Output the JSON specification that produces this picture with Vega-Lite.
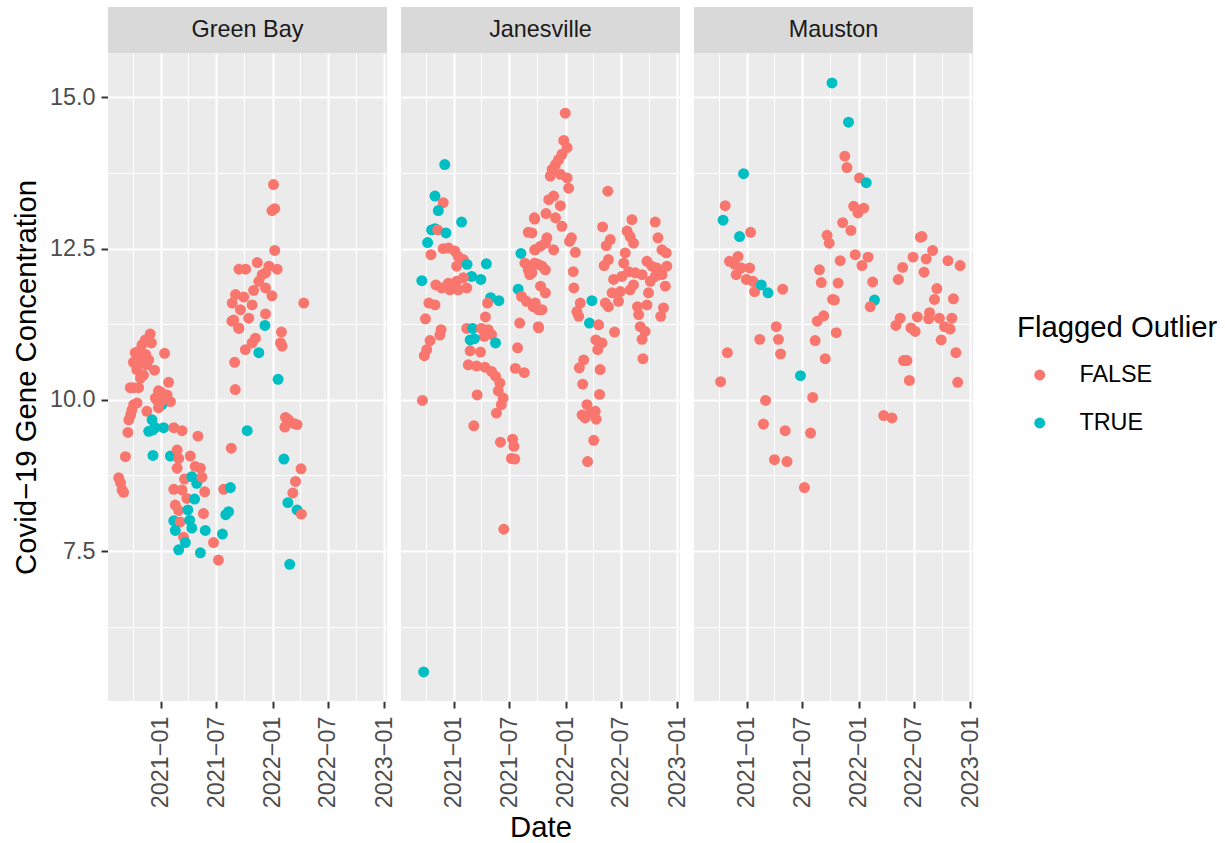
{
"$schema": "https://vega.github.io/schema/vega-lite/v6.json",
"padding": {"left": 12, "top": 7, "right": 0, "bottom": 0},
"spacing": 0,
"config": {"font": "Liberation Sans", "view": {"stroke": null}},
"datasets": {
"sites": [{"site": "Green Bay"}, {"site": "Janesville"}, {"site": "Mauston"}],
"obs": [
{"site":"Green Bay","date":"2020-08-16","value":8.71,"outlier":"FALSE"},
{"site":"Green Bay","date":"2020-08-22","value":8.63,"outlier":"FALSE"},
{"site":"Green Bay","date":"2020-09-01","value":8.47,"outlier":"FALSE"},
{"site":"Green Bay","date":"2020-08-27","value":8.51,"outlier":"FALSE"},
{"site":"Green Bay","date":"2020-09-07","value":9.06,"outlier":"FALSE"},
{"site":"Green Bay","date":"2020-09-15","value":9.46,"outlier":"FALSE"},
{"site":"Green Bay","date":"2020-09-18","value":9.67,"outlier":"FALSE"},
{"site":"Green Bay","date":"2020-09-28","value":9.83,"outlier":"FALSE"},
{"site":"Green Bay","date":"2020-09-24","value":9.75,"outlier":"FALSE"},
{"site":"Green Bay","date":"2020-10-04","value":9.92,"outlier":"FALSE"},
{"site":"Green Bay","date":"2020-10-15","value":9.95,"outlier":"FALSE"},
{"site":"Green Bay","date":"2020-09-23","value":10.20,"outlier":"FALSE"},
{"site":"Green Bay","date":"2020-10-03","value":10.20,"outlier":"FALSE"},
{"site":"Green Bay","date":"2020-10-20","value":10.20,"outlier":"FALSE"},
{"site":"Green Bay","date":"2020-10-03","value":10.62,"outlier":"FALSE"},
{"site":"Green Bay","date":"2020-10-09","value":10.78,"outlier":"FALSE"},
{"site":"Green Bay","date":"2020-10-20","value":10.80,"outlier":"FALSE"},
{"site":"Green Bay","date":"2020-10-31","value":10.91,"outlier":"FALSE"},
{"site":"Green Bay","date":"2020-11-11","value":10.99,"outlier":"FALSE"},
{"site":"Green Bay","date":"2020-11-27","value":11.09,"outlier":"FALSE"},
{"site":"Green Bay","date":"2020-10-31","value":10.61,"outlier":"FALSE"},
{"site":"Green Bay","date":"2020-10-26","value":10.36,"outlier":"FALSE"},
{"site":"Green Bay","date":"2020-10-14","value":10.50,"outlier":"FALSE"},
{"site":"Green Bay","date":"2020-10-27","value":10.70,"outlier":"FALSE"},
{"site":"Green Bay","date":"2020-11-12","value":10.75,"outlier":"FALSE"},
{"site":"Green Bay","date":"2020-11-15","value":10.58,"outlier":"FALSE"},
{"site":"Green Bay","date":"2020-12-11","value":10.49,"outlier":"FALSE"},
{"site":"Green Bay","date":"2021-01-13","value":10.77,"outlier":"FALSE"},
{"site":"Green Bay","date":"2021-01-26","value":10.29,"outlier":"FALSE"},
{"site":"Green Bay","date":"2020-12-24","value":10.15,"outlier":"FALSE"},
{"site":"Green Bay","date":"2020-12-14","value":10.03,"outlier":"FALSE"},
{"site":"Green Bay","date":"2021-01-21","value":10.08,"outlier":"FALSE"},
{"site":"Green Bay","date":"2021-02-01","value":9.97,"outlier":"FALSE"},
{"site":"Green Bay","date":"2021-01-04","value":9.92,"outlier":"TRUE"},
{"site":"Green Bay","date":"2020-12-24","value":9.87,"outlier":"FALSE"},
{"site":"Green Bay","date":"2020-11-16","value":9.81,"outlier":"FALSE"},
{"site":"Green Bay","date":"2020-12-03","value":9.67,"outlier":"TRUE"},
{"site":"Green Bay","date":"2020-11-22","value":9.48,"outlier":"TRUE"},
{"site":"Green Bay","date":"2020-12-14","value":9.54,"outlier":"TRUE"},
{"site":"Green Bay","date":"2021-01-10","value":9.54,"outlier":"TRUE"},
{"site":"Green Bay","date":"2020-12-05","value":9.50,"outlier":"TRUE"},
{"site":"Green Bay","date":"2021-02-12","value":9.54,"outlier":"FALSE"},
{"site":"Green Bay","date":"2021-03-11","value":9.49,"outlier":"FALSE"},
{"site":"Green Bay","date":"2021-05-02","value":9.40,"outlier":"FALSE"},
{"site":"Green Bay","date":"2020-12-06","value":9.08,"outlier":"TRUE"},
{"site":"Green Bay","date":"2021-02-01","value":9.07,"outlier":"TRUE"},
{"site":"Green Bay","date":"2021-02-23","value":9.17,"outlier":"FALSE"},
{"site":"Green Bay","date":"2021-02-28","value":9.03,"outlier":"FALSE"},
{"site":"Green Bay","date":"2021-04-07","value":9.07,"outlier":"FALSE"},
{"site":"Green Bay","date":"2021-02-23","value":8.87,"outlier":"FALSE"},
{"site":"Green Bay","date":"2021-04-23","value":8.90,"outlier":"FALSE"},
{"site":"Green Bay","date":"2021-05-10","value":8.87,"outlier":"FALSE"},
{"site":"Green Bay","date":"2021-03-19","value":8.69,"outlier":"FALSE"},
{"site":"Green Bay","date":"2021-04-12","value":8.73,"outlier":"TRUE"},
{"site":"Green Bay","date":"2021-04-28","value":8.62,"outlier":"TRUE"},
{"site":"Green Bay","date":"2021-05-15","value":8.72,"outlier":"FALSE"},
{"site":"Green Bay","date":"2021-02-12","value":8.52,"outlier":"FALSE"},
{"site":"Green Bay","date":"2021-03-11","value":8.51,"outlier":"FALSE"},
{"site":"Green Bay","date":"2021-03-27","value":8.37,"outlier":"FALSE"},
{"site":"Green Bay","date":"2021-04-21","value":8.36,"outlier":"TRUE"},
{"site":"Green Bay","date":"2021-05-24","value":8.48,"outlier":"FALSE"},
{"site":"Green Bay","date":"2021-07-25","value":8.52,"outlier":"FALSE"},
{"site":"Green Bay","date":"2021-08-16","value":8.55,"outlier":"TRUE"},
{"site":"Green Bay","date":"2021-02-17","value":8.26,"outlier":"FALSE"},
{"site":"Green Bay","date":"2021-02-28","value":8.17,"outlier":"FALSE"},
{"site":"Green Bay","date":"2021-03-30","value":8.18,"outlier":"TRUE"},
{"site":"Green Bay","date":"2021-05-20","value":8.12,"outlier":"FALSE"},
{"site":"Green Bay","date":"2021-02-12","value":8.00,"outlier":"TRUE"},
{"site":"Green Bay","date":"2021-03-05","value":7.98,"outlier":"FALSE"},
{"site":"Green Bay","date":"2021-04-05","value":8.01,"outlier":"TRUE"},
{"site":"Green Bay","date":"2021-04-12","value":7.88,"outlier":"TRUE"},
{"site":"Green Bay","date":"2021-02-17","value":7.84,"outlier":"TRUE"},
{"site":"Green Bay","date":"2021-03-16","value":7.73,"outlier":"FALSE"},
{"site":"Green Bay","date":"2021-05-26","value":7.84,"outlier":"TRUE"},
{"site":"Green Bay","date":"2021-08-01","value":8.10,"outlier":"TRUE"},
{"site":"Green Bay","date":"2021-08-10","value":8.15,"outlier":"TRUE"},
{"site":"Green Bay","date":"2021-07-21","value":7.78,"outlier":"TRUE"},
{"site":"Green Bay","date":"2021-06-22","value":7.64,"outlier":"FALSE"},
{"site":"Green Bay","date":"2021-03-22","value":7.64,"outlier":"TRUE"},
{"site":"Green Bay","date":"2021-02-28","value":7.52,"outlier":"TRUE"},
{"site":"Green Bay","date":"2021-05-10","value":7.47,"outlier":"TRUE"},
{"site":"Green Bay","date":"2021-07-08","value":7.35,"outlier":"FALSE"},
{"site":"Green Bay","date":"2021-08-21","value":11.30,"outlier":"FALSE"},
{"site":"Green Bay","date":"2021-09-12","value":11.19,"outlier":"FALSE"},
{"site":"Green Bay","date":"2021-10-04","value":10.83,"outlier":"FALSE"},
{"site":"Green Bay","date":"2021-09-01","value":10.17,"outlier":"FALSE"},
{"site":"Green Bay","date":"2021-08-19","value":9.20,"outlier":"FALSE"},
{"site":"Green Bay","date":"2022-01-04","value":13.56,"outlier":"FALSE"},
{"site":"Green Bay","date":"2022-01-08","value":13.16,"outlier":"FALSE"},
{"site":"Green Bay","date":"2021-12-30","value":13.13,"outlier":"FALSE"},
{"site":"Green Bay","date":"2022-01-08","value":12.47,"outlier":"FALSE"},
{"site":"Green Bay","date":"2021-11-12","value":12.27,"outlier":"FALSE"},
{"site":"Green Bay","date":"2021-09-13","value":12.16,"outlier":"FALSE"},
{"site":"Green Bay","date":"2021-10-05","value":12.16,"outlier":"FALSE"},
{"site":"Green Bay","date":"2021-12-20","value":12.21,"outlier":"FALSE"},
{"site":"Green Bay","date":"2022-01-16","value":12.16,"outlier":"FALSE"},
{"site":"Green Bay","date":"2021-11-28","value":12.07,"outlier":"FALSE"},
{"site":"Green Bay","date":"2021-12-09","value":12.10,"outlier":"FALSE"},
{"site":"Green Bay","date":"2021-11-17","value":11.96,"outlier":"FALSE"},
{"site":"Green Bay","date":"2021-10-31","value":11.81,"outlier":"FALSE"},
{"site":"Green Bay","date":"2021-12-09","value":11.85,"outlier":"FALSE"},
{"site":"Green Bay","date":"2021-12-30","value":11.72,"outlier":"FALSE"},
{"site":"Green Bay","date":"2022-04-13","value":11.60,"outlier":"FALSE"},
{"site":"Green Bay","date":"2021-09-02","value":11.74,"outlier":"FALSE"},
{"site":"Green Bay","date":"2021-09-29","value":11.70,"outlier":"FALSE"},
{"site":"Green Bay","date":"2021-08-22","value":11.60,"outlier":"FALSE"},
{"site":"Green Bay","date":"2021-10-26","value":11.57,"outlier":"FALSE"},
{"site":"Green Bay","date":"2021-09-18","value":11.49,"outlier":"FALSE"},
{"site":"Green Bay","date":"2021-12-09","value":11.42,"outlier":"FALSE"},
{"site":"Green Bay","date":"2021-08-27","value":11.32,"outlier":"FALSE"},
{"site":"Green Bay","date":"2021-10-15","value":11.35,"outlier":"FALSE"},
{"site":"Green Bay","date":"2021-09-13","value":11.18,"outlier":"FALSE"},
{"site":"Green Bay","date":"2021-12-07","value":11.23,"outlier":"TRUE"},
{"site":"Green Bay","date":"2022-01-30","value":11.12,"outlier":"FALSE"},
{"site":"Green Bay","date":"2021-11-06","value":11.02,"outlier":"FALSE"},
{"site":"Green Bay","date":"2021-10-26","value":10.94,"outlier":"FALSE"},
{"site":"Green Bay","date":"2022-01-27","value":10.94,"outlier":"FALSE"},
{"site":"Green Bay","date":"2022-02-01","value":10.89,"outlier":"FALSE"},
{"site":"Green Bay","date":"2021-11-17","value":10.78,"outlier":"TRUE"},
{"site":"Green Bay","date":"2021-08-30","value":10.62,"outlier":"FALSE"},
{"site":"Green Bay","date":"2022-01-19","value":10.34,"outlier":"TRUE"},
{"site":"Green Bay","date":"2022-02-12","value":9.71,"outlier":"FALSE"},
{"site":"Green Bay","date":"2022-03-11","value":9.61,"outlier":"FALSE"},
{"site":"Green Bay","date":"2022-02-10","value":9.55,"outlier":"FALSE"},
{"site":"Green Bay","date":"2022-03-22","value":9.59,"outlier":"FALSE"},
{"site":"Green Bay","date":"2022-02-22","value":9.67,"outlier":"FALSE"},
{"site":"Green Bay","date":"2021-10-10","value":9.49,"outlier":"TRUE"},
{"site":"Green Bay","date":"2022-02-07","value":9.02,"outlier":"TRUE"},
{"site":"Green Bay","date":"2022-04-04","value":8.86,"outlier":"FALSE"},
{"site":"Green Bay","date":"2022-03-17","value":8.65,"outlier":"FALSE"},
{"site":"Green Bay","date":"2022-03-08","value":8.46,"outlier":"FALSE"},
{"site":"Green Bay","date":"2022-02-20","value":8.30,"outlier":"TRUE"},
{"site":"Green Bay","date":"2022-03-22","value":8.18,"outlier":"TRUE"},
{"site":"Green Bay","date":"2022-04-05","value":8.11,"outlier":"FALSE"},
{"site":"Green Bay","date":"2022-02-26","value":7.28,"outlier":"TRUE"},
{"site":"Green Bay","date":"2020-12-01","value":10.94,"outlier":"FALSE"},
{"site":"Green Bay","date":"2020-11-22","value":10.66,"outlier":"FALSE"},
{"site":"Green Bay","date":"2020-11-05","value":10.41,"outlier":"FALSE"},
{"site":"Green Bay","date":"2020-12-31","value":10.13,"outlier":"FALSE"},
{"site":"Green Bay","date":"2021-01-10","value":10.00,"outlier":"FALSE"},
{"site":"Green Bay","date":"2020-12-18","value":10.00,"outlier":"FALSE"},
{"site":"Janesville","date":"2020-12-02","value":13.89,"outlier":"TRUE"},
{"site":"Janesville","date":"2020-10-31","value":13.37,"outlier":"TRUE"},
{"site":"Janesville","date":"2020-11-27","value":13.26,"outlier":"FALSE"},
{"site":"Janesville","date":"2020-11-11","value":13.13,"outlier":"TRUE"},
{"site":"Janesville","date":"2021-01-26","value":12.94,"outlier":"TRUE"},
{"site":"Janesville","date":"2020-10-20","value":12.81,"outlier":"TRUE"},
{"site":"Janesville","date":"2020-10-31","value":12.83,"outlier":"TRUE"},
{"site":"Janesville","date":"2020-11-09","value":12.81,"outlier":"FALSE"},
{"site":"Janesville","date":"2020-12-06","value":12.76,"outlier":"TRUE"},
{"site":"Janesville","date":"2020-10-07","value":12.60,"outlier":"TRUE"},
{"site":"Janesville","date":"2020-10-18","value":12.40,"outlier":"FALSE"},
{"site":"Janesville","date":"2020-11-27","value":12.50,"outlier":"FALSE"},
{"site":"Janesville","date":"2020-12-14","value":12.51,"outlier":"FALSE"},
{"site":"Janesville","date":"2021-01-04","value":12.46,"outlier":"FALSE"},
{"site":"Janesville","date":"2021-01-15","value":12.37,"outlier":"FALSE"},
{"site":"Janesville","date":"2021-02-01","value":12.32,"outlier":"FALSE"},
{"site":"Janesville","date":"2021-01-10","value":12.21,"outlier":"FALSE"},
{"site":"Janesville","date":"2021-02-13","value":12.24,"outlier":"TRUE"},
{"site":"Janesville","date":"2021-04-17","value":12.25,"outlier":"TRUE"},
{"site":"Janesville","date":"2021-02-28","value":12.04,"outlier":"TRUE"},
{"site":"Janesville","date":"2021-03-30","value":11.99,"outlier":"TRUE"},
{"site":"Janesville","date":"2020-09-18","value":11.97,"outlier":"TRUE"},
{"site":"Janesville","date":"2020-11-03","value":11.90,"outlier":"FALSE"},
{"site":"Janesville","date":"2020-12-14","value":11.93,"outlier":"FALSE"},
{"site":"Janesville","date":"2021-01-10","value":11.96,"outlier":"FALSE"},
{"site":"Janesville","date":"2021-02-01","value":12.02,"outlier":"FALSE"},
{"site":"Janesville","date":"2020-12-19","value":11.82,"outlier":"FALSE"},
{"site":"Janesville","date":"2021-01-15","value":11.82,"outlier":"FALSE"},
{"site":"Janesville","date":"2021-02-12","value":11.85,"outlier":"FALSE"},
{"site":"Janesville","date":"2020-11-22","value":11.85,"outlier":"FALSE"},
{"site":"Janesville","date":"2021-05-01","value":11.69,"outlier":"TRUE"},
{"site":"Janesville","date":"2021-05-28","value":11.64,"outlier":"TRUE"},
{"site":"Janesville","date":"2021-04-21","value":11.60,"outlier":"FALSE"},
{"site":"Janesville","date":"2020-10-11","value":11.60,"outlier":"FALSE"},
{"site":"Janesville","date":"2020-10-31","value":11.57,"outlier":"FALSE"},
{"site":"Janesville","date":"2020-09-30","value":11.34,"outlier":"FALSE"},
{"site":"Janesville","date":"2021-04-14","value":11.37,"outlier":"FALSE"},
{"site":"Janesville","date":"2020-11-20","value":11.16,"outlier":"FALSE"},
{"site":"Janesville","date":"2020-11-16","value":11.07,"outlier":"FALSE"},
{"site":"Janesville","date":"2021-02-12","value":11.18,"outlier":"FALSE"},
{"site":"Janesville","date":"2021-03-03","value":11.18,"outlier":"TRUE"},
{"site":"Janesville","date":"2021-04-01","value":11.18,"outlier":"FALSE"},
{"site":"Janesville","date":"2021-04-23","value":11.16,"outlier":"FALSE"},
{"site":"Janesville","date":"2021-04-10","value":11.05,"outlier":"FALSE"},
{"site":"Janesville","date":"2021-05-04","value":11.08,"outlier":"FALSE"},
{"site":"Janesville","date":"2021-02-23","value":10.99,"outlier":"TRUE"},
{"site":"Janesville","date":"2021-03-09","value":11.01,"outlier":"TRUE"},
{"site":"Janesville","date":"2021-05-17","value":10.94,"outlier":"TRUE"},
{"site":"Janesville","date":"2020-10-15","value":10.98,"outlier":"FALSE"},
{"site":"Janesville","date":"2020-10-04","value":10.83,"outlier":"FALSE"},
{"site":"Janesville","date":"2020-09-26","value":10.73,"outlier":"FALSE"},
{"site":"Janesville","date":"2021-02-23","value":10.81,"outlier":"FALSE"},
{"site":"Janesville","date":"2021-03-29","value":10.79,"outlier":"FALSE"},
{"site":"Janesville","date":"2021-02-17","value":10.58,"outlier":"FALSE"},
{"site":"Janesville","date":"2021-03-16","value":10.56,"outlier":"FALSE"},
{"site":"Janesville","date":"2021-04-12","value":10.54,"outlier":"FALSE"},
{"site":"Janesville","date":"2021-05-04","value":10.47,"outlier":"FALSE"},
{"site":"Janesville","date":"2021-05-17","value":10.39,"outlier":"FALSE"},
{"site":"Janesville","date":"2021-05-31","value":10.28,"outlier":"FALSE"},
{"site":"Janesville","date":"2021-05-26","value":10.15,"outlier":"FALSE"},
{"site":"Janesville","date":"2021-06-11","value":10.03,"outlier":"FALSE"},
{"site":"Janesville","date":"2021-06-05","value":9.92,"outlier":"FALSE"},
{"site":"Janesville","date":"2021-05-20","value":9.78,"outlier":"FALSE"},
{"site":"Janesville","date":"2020-09-20","value":9.99,"outlier":"FALSE"},
{"site":"Janesville","date":"2021-03-18","value":10.08,"outlier":"FALSE"},
{"site":"Janesville","date":"2021-03-07","value":9.57,"outlier":"FALSE"},
{"site":"Janesville","date":"2021-06-02","value":9.30,"outlier":"FALSE"},
{"site":"Janesville","date":"2021-07-12","value":9.35,"outlier":"FALSE"},
{"site":"Janesville","date":"2021-07-16","value":9.23,"outlier":"FALSE"},
{"site":"Janesville","date":"2021-07-08","value":9.03,"outlier":"FALSE"},
{"site":"Janesville","date":"2021-07-19","value":9.02,"outlier":"FALSE"},
{"site":"Janesville","date":"2021-06-13","value":7.86,"outlier":"FALSE"},
{"site":"Janesville","date":"2020-09-24","value":5.50,"outlier":"TRUE"},
{"site":"Janesville","date":"2021-08-04","value":11.27,"outlier":"FALSE"},
{"site":"Janesville","date":"2021-07-28","value":10.86,"outlier":"FALSE"},
{"site":"Janesville","date":"2021-07-21","value":10.52,"outlier":"FALSE"},
{"site":"Janesville","date":"2021-08-19","value":10.45,"outlier":"FALSE"},
{"site":"Janesville","date":"2021-08-08","value":12.42,"outlier":"TRUE"},
{"site":"Janesville","date":"2021-07-30","value":11.83,"outlier":"TRUE"},
{"site":"Janesville","date":"2021-09-22","value":12.99,"outlier":"FALSE"},
{"site":"Janesville","date":"2021-09-01","value":12.77,"outlier":"FALSE"},
{"site":"Janesville","date":"2021-08-21","value":12.26,"outlier":"FALSE"},
{"site":"Janesville","date":"2021-09-01","value":12.15,"outlier":"FALSE"},
{"site":"Janesville","date":"2021-09-06","value":12.07,"outlier":"FALSE"},
{"site":"Janesville","date":"2021-09-22","value":12.26,"outlier":"FALSE"},
{"site":"Janesville","date":"2021-10-04","value":12.24,"outlier":"FALSE"},
{"site":"Janesville","date":"2021-09-22","value":12.48,"outlier":"FALSE"},
{"site":"Janesville","date":"2021-08-10","value":11.71,"outlier":"FALSE"},
{"site":"Janesville","date":"2021-08-26","value":11.63,"outlier":"FALSE"},
{"site":"Janesville","date":"2021-09-17","value":11.54,"outlier":"FALSE"},
{"site":"Janesville","date":"2021-10-04","value":11.49,"outlier":"FALSE"},
{"site":"Janesville","date":"2021-10-04","value":11.21,"outlier":"FALSE"},
{"site":"Janesville","date":"2021-12-31","value":14.74,"outlier":"FALSE"},
{"site":"Janesville","date":"2021-12-26","value":14.29,"outlier":"FALSE"},
{"site":"Janesville","date":"2022-01-06","value":14.17,"outlier":"FALSE"},
{"site":"Janesville","date":"2021-12-20","value":14.06,"outlier":"FALSE"},
{"site":"Janesville","date":"2021-12-09","value":13.97,"outlier":"FALSE"},
{"site":"Janesville","date":"2021-11-29","value":13.89,"outlier":"FALSE"},
{"site":"Janesville","date":"2021-11-18","value":13.81,"outlier":"FALSE"},
{"site":"Janesville","date":"2021-11-12","value":13.70,"outlier":"FALSE"},
{"site":"Janesville","date":"2021-12-15","value":13.73,"outlier":"FALSE"},
{"site":"Janesville","date":"2022-01-06","value":13.67,"outlier":"FALSE"},
{"site":"Janesville","date":"2022-01-11","value":13.50,"outlier":"FALSE"},
{"site":"Janesville","date":"2022-05-19","value":13.45,"outlier":"FALSE"},
{"site":"Janesville","date":"2021-11-07","value":13.31,"outlier":"FALSE"},
{"site":"Janesville","date":"2021-11-23","value":13.37,"outlier":"FALSE"},
{"site":"Janesville","date":"2021-12-15","value":13.21,"outlier":"FALSE"},
{"site":"Janesville","date":"2021-10-29","value":13.08,"outlier":"FALSE"},
{"site":"Janesville","date":"2021-11-29","value":13.01,"outlier":"FALSE"},
{"site":"Janesville","date":"2021-12-20","value":12.87,"outlier":"FALSE"},
{"site":"Janesville","date":"2021-09-21","value":13.01,"outlier":"FALSE"},
{"site":"Janesville","date":"2021-09-13","value":12.76,"outlier":"FALSE"},
{"site":"Janesville","date":"2021-11-01","value":12.68,"outlier":"FALSE"},
{"site":"Janesville","date":"2021-10-11","value":12.54,"outlier":"FALSE"},
{"site":"Janesville","date":"2021-09-24","value":12.48,"outlier":"FALSE"},
{"site":"Janesville","date":"2021-11-23","value":12.48,"outlier":"FALSE"},
{"site":"Janesville","date":"2021-10-27","value":12.59,"outlier":"FALSE"},
{"site":"Janesville","date":"2022-01-20","value":12.68,"outlier":"FALSE"},
{"site":"Janesville","date":"2022-01-14","value":12.62,"outlier":"FALSE"},
{"site":"Janesville","date":"2022-02-02","value":12.44,"outlier":"FALSE"},
{"site":"Janesville","date":"2021-09-19","value":12.24,"outlier":"FALSE"},
{"site":"Janesville","date":"2021-10-16","value":12.21,"outlier":"FALSE"},
{"site":"Janesville","date":"2021-10-27","value":12.15,"outlier":"FALSE"},
{"site":"Janesville","date":"2021-09-13","value":12.10,"outlier":"FALSE"},
{"site":"Janesville","date":"2022-01-26","value":12.12,"outlier":"FALSE"},
{"site":"Janesville","date":"2021-10-11","value":11.88,"outlier":"FALSE"},
{"site":"Janesville","date":"2021-10-27","value":11.77,"outlier":"FALSE"},
{"site":"Janesville","date":"2022-01-28","value":11.85,"outlier":"FALSE"},
{"site":"Janesville","date":"2021-09-24","value":11.60,"outlier":"FALSE"},
{"site":"Janesville","date":"2021-10-16","value":11.49,"outlier":"FALSE"},
{"site":"Janesville","date":"2021-10-05","value":11.19,"outlier":"FALSE"},
{"site":"Janesville","date":"2022-02-18","value":11.60,"outlier":"FALSE"},
{"site":"Janesville","date":"2022-02-07","value":11.46,"outlier":"FALSE"},
{"site":"Janesville","date":"2022-02-13","value":11.38,"outlier":"FALSE"},
{"site":"Janesville","date":"2022-03-28","value":11.64,"outlier":"TRUE"},
{"site":"Janesville","date":"2022-03-20","value":11.27,"outlier":"TRUE"},
{"site":"Janesville","date":"2022-04-19","value":11.24,"outlier":"FALSE"},
{"site":"Janesville","date":"2022-04-10","value":10.99,"outlier":"FALSE"},
{"site":"Janesville","date":"2022-04-30","value":10.94,"outlier":"FALSE"},
{"site":"Janesville","date":"2022-04-16","value":10.83,"outlier":"FALSE"},
{"site":"Janesville","date":"2022-03-01","value":10.66,"outlier":"FALSE"},
{"site":"Janesville","date":"2022-02-15","value":10.53,"outlier":"FALSE"},
{"site":"Janesville","date":"2022-04-24","value":10.50,"outlier":"FALSE"},
{"site":"Janesville","date":"2022-02-26","value":10.26,"outlier":"FALSE"},
{"site":"Janesville","date":"2022-04-22","value":10.09,"outlier":"FALSE"},
{"site":"Janesville","date":"2022-03-12","value":9.92,"outlier":"FALSE"},
{"site":"Janesville","date":"2022-02-24","value":9.75,"outlier":"FALSE"},
{"site":"Janesville","date":"2022-03-23","value":9.78,"outlier":"FALSE"},
{"site":"Janesville","date":"2022-04-08","value":9.81,"outlier":"FALSE"},
{"site":"Janesville","date":"2022-04-11","value":9.68,"outlier":"FALSE"},
{"site":"Janesville","date":"2022-03-06","value":9.70,"outlier":"FALSE"},
{"site":"Janesville","date":"2022-04-03","value":9.33,"outlier":"FALSE"},
{"site":"Janesville","date":"2022-03-14","value":8.98,"outlier":"FALSE"},
{"site":"Janesville","date":"2022-05-02","value":12.86,"outlier":"FALSE"},
{"site":"Janesville","date":"2022-05-27","value":12.65,"outlier":"FALSE"},
{"site":"Janesville","date":"2022-05-14","value":12.55,"outlier":"FALSE"},
{"site":"Janesville","date":"2022-05-21","value":12.32,"outlier":"FALSE"},
{"site":"Janesville","date":"2022-05-07","value":12.22,"outlier":"FALSE"},
{"site":"Janesville","date":"2022-08-06","value":12.98,"outlier":"FALSE"},
{"site":"Janesville","date":"2022-07-21","value":12.79,"outlier":"FALSE"},
{"site":"Janesville","date":"2022-07-31","value":12.70,"outlier":"FALSE"},
{"site":"Janesville","date":"2022-08-11","value":12.59,"outlier":"FALSE"},
{"site":"Janesville","date":"2022-07-15","value":12.43,"outlier":"FALSE"},
{"site":"Janesville","date":"2022-07-10","value":12.26,"outlier":"FALSE"},
{"site":"Janesville","date":"2022-06-07","value":11.99,"outlier":"FALSE"},
{"site":"Janesville","date":"2022-07-04","value":12.04,"outlier":"FALSE"},
{"site":"Janesville","date":"2022-07-26","value":12.12,"outlier":"FALSE"},
{"site":"Janesville","date":"2022-08-17","value":12.10,"outlier":"FALSE"},
{"site":"Janesville","date":"2022-09-08","value":12.07,"outlier":"FALSE"},
{"site":"Janesville","date":"2022-06-02","value":11.77,"outlier":"FALSE"},
{"site":"Janesville","date":"2022-06-29","value":11.79,"outlier":"FALSE"},
{"site":"Janesville","date":"2022-06-23","value":11.63,"outlier":"FALSE"},
{"site":"Janesville","date":"2022-07-31","value":11.82,"outlier":"FALSE"},
{"site":"Janesville","date":"2022-08-11","value":11.90,"outlier":"FALSE"},
{"site":"Janesville","date":"2022-05-11","value":11.60,"outlier":"FALSE"},
{"site":"Janesville","date":"2022-05-21","value":11.54,"outlier":"FALSE"},
{"site":"Janesville","date":"2022-06-10","value":11.12,"outlier":"FALSE"},
{"site":"Janesville","date":"2022-10-21","value":12.94,"outlier":"FALSE"},
{"site":"Janesville","date":"2022-10-30","value":12.68,"outlier":"FALSE"},
{"site":"Janesville","date":"2022-11-12","value":12.48,"outlier":"FALSE"},
{"site":"Janesville","date":"2022-11-26","value":12.43,"outlier":"FALSE"},
{"site":"Janesville","date":"2022-09-24","value":12.29,"outlier":"FALSE"},
{"site":"Janesville","date":"2022-10-10","value":12.21,"outlier":"FALSE"},
{"site":"Janesville","date":"2022-10-26","value":12.18,"outlier":"FALSE"},
{"site":"Janesville","date":"2022-11-28","value":12.21,"outlier":"FALSE"},
{"site":"Janesville","date":"2022-10-21","value":12.04,"outlier":"FALSE"},
{"site":"Janesville","date":"2022-11-12","value":12.07,"outlier":"FALSE"},
{"site":"Janesville","date":"2022-10-05","value":11.96,"outlier":"FALSE"},
{"site":"Janesville","date":"2022-09-29","value":11.77,"outlier":"FALSE"},
{"site":"Janesville","date":"2022-11-23","value":11.88,"outlier":"FALSE"},
{"site":"Janesville","date":"2022-08-24","value":11.54,"outlier":"FALSE"},
{"site":"Janesville","date":"2022-09-24","value":11.57,"outlier":"FALSE"},
{"site":"Janesville","date":"2022-08-28","value":11.41,"outlier":"FALSE"},
{"site":"Janesville","date":"2022-09-02","value":11.21,"outlier":"FALSE"},
{"site":"Janesville","date":"2022-09-18","value":11.13,"outlier":"FALSE"},
{"site":"Janesville","date":"2022-09-08","value":11.00,"outlier":"FALSE"},
{"site":"Janesville","date":"2022-09-11","value":10.68,"outlier":"FALSE"},
{"site":"Janesville","date":"2022-11-17","value":11.52,"outlier":"FALSE"},
{"site":"Janesville","date":"2022-11-08","value":11.38,"outlier":"FALSE"},
{"site":"Mauston","date":"2020-10-22","value":13.21,"outlier":"FALSE"},
{"site":"Mauston","date":"2020-10-15","value":12.97,"outlier":"TRUE"},
{"site":"Mauston","date":"2021-01-13","value":12.77,"outlier":"FALSE"},
{"site":"Mauston","date":"2020-12-08","value":12.70,"outlier":"TRUE"},
{"site":"Mauston","date":"2020-12-21","value":13.74,"outlier":"TRUE"},
{"site":"Mauston","date":"2020-11-05","value":12.29,"outlier":"FALSE"},
{"site":"Mauston","date":"2020-12-03","value":12.37,"outlier":"FALSE"},
{"site":"Mauston","date":"2020-11-22","value":12.24,"outlier":"FALSE"},
{"site":"Mauston","date":"2020-12-14","value":12.18,"outlier":"FALSE"},
{"site":"Mauston","date":"2021-01-10","value":12.18,"outlier":"FALSE"},
{"site":"Mauston","date":"2020-11-27","value":12.07,"outlier":"FALSE"},
{"site":"Mauston","date":"2020-12-30","value":11.99,"outlier":"FALSE"},
{"site":"Mauston","date":"2021-01-21","value":11.96,"outlier":"FALSE"},
{"site":"Mauston","date":"2021-01-26","value":11.79,"outlier":"FALSE"},
{"site":"Mauston","date":"2021-02-17","value":11.90,"outlier":"TRUE"},
{"site":"Mauston","date":"2021-03-11","value":11.77,"outlier":"TRUE"},
{"site":"Mauston","date":"2021-04-28","value":11.83,"outlier":"FALSE"},
{"site":"Mauston","date":"2021-04-07","value":11.21,"outlier":"FALSE"},
{"site":"Mauston","date":"2021-02-12","value":11.00,"outlier":"FALSE"},
{"site":"Mauston","date":"2021-04-14","value":11.00,"outlier":"FALSE"},
{"site":"Mauston","date":"2021-04-21","value":10.76,"outlier":"FALSE"},
{"site":"Mauston","date":"2020-10-29","value":10.78,"outlier":"FALSE"},
{"site":"Mauston","date":"2020-10-07","value":10.30,"outlier":"FALSE"},
{"site":"Mauston","date":"2021-06-25","value":10.40,"outlier":"TRUE"},
{"site":"Mauston","date":"2021-03-03","value":9.99,"outlier":"FALSE"},
{"site":"Mauston","date":"2021-08-04","value":10.04,"outlier":"FALSE"},
{"site":"Mauston","date":"2021-02-24","value":9.60,"outlier":"FALSE"},
{"site":"Mauston","date":"2021-05-06","value":9.49,"outlier":"FALSE"},
{"site":"Mauston","date":"2021-07-28","value":9.45,"outlier":"FALSE"},
{"site":"Mauston","date":"2021-04-01","value":9.01,"outlier":"FALSE"},
{"site":"Mauston","date":"2021-05-12","value":8.98,"outlier":"FALSE"},
{"site":"Mauston","date":"2021-07-08","value":8.55,"outlier":"FALSE"},
{"site":"Mauston","date":"2021-09-20","value":12.72,"outlier":"FALSE"},
{"site":"Mauston","date":"2021-09-27","value":12.59,"outlier":"FALSE"},
{"site":"Mauston","date":"2021-08-26","value":12.15,"outlier":"FALSE"},
{"site":"Mauston","date":"2021-09-01","value":11.94,"outlier":"FALSE"},
{"site":"Mauston","date":"2021-10-08","value":11.66,"outlier":"FALSE"},
{"site":"Mauston","date":"2021-08-19","value":11.30,"outlier":"FALSE"},
{"site":"Mauston","date":"2021-09-09","value":11.39,"outlier":"FALSE"},
{"site":"Mauston","date":"2021-08-12","value":10.98,"outlier":"FALSE"},
{"site":"Mauston","date":"2021-09-14","value":10.68,"outlier":"FALSE"},
{"site":"Mauston","date":"2021-10-06","value":15.24,"outlier":"TRUE"},
{"site":"Mauston","date":"2021-11-29","value":14.59,"outlier":"TRUE"},
{"site":"Mauston","date":"2021-11-17","value":14.03,"outlier":"FALSE"},
{"site":"Mauston","date":"2021-11-24","value":13.84,"outlier":"FALSE"},
{"site":"Mauston","date":"2022-01-04","value":13.67,"outlier":"FALSE"},
{"site":"Mauston","date":"2022-01-26","value":13.59,"outlier":"TRUE"},
{"site":"Mauston","date":"2021-12-16","value":13.20,"outlier":"FALSE"},
{"site":"Mauston","date":"2022-01-18","value":13.17,"outlier":"FALSE"},
{"site":"Mauston","date":"2021-12-30","value":13.09,"outlier":"FALSE"},
{"site":"Mauston","date":"2021-11-10","value":12.93,"outlier":"FALSE"},
{"site":"Mauston","date":"2021-12-07","value":12.80,"outlier":"FALSE"},
{"site":"Mauston","date":"2021-12-21","value":12.40,"outlier":"FALSE"},
{"site":"Mauston","date":"2022-02-01","value":12.36,"outlier":"FALSE"},
{"site":"Mauston","date":"2022-01-12","value":12.22,"outlier":"FALSE"},
{"site":"Mauston","date":"2021-11-02","value":12.30,"outlier":"FALSE"},
{"site":"Mauston","date":"2021-10-26","value":11.93,"outlier":"FALSE"},
{"site":"Mauston","date":"2022-02-16","value":11.95,"outlier":"FALSE"},
{"site":"Mauston","date":"2021-10-14","value":11.65,"outlier":"FALSE"},
{"site":"Mauston","date":"2022-02-22","value":11.65,"outlier":"TRUE"},
{"site":"Mauston","date":"2022-02-08","value":11.54,"outlier":"FALSE"},
{"site":"Mauston","date":"2021-10-20","value":11.11,"outlier":"FALSE"},
{"site":"Mauston","date":"2022-03-24","value":9.74,"outlier":"FALSE"},
{"site":"Mauston","date":"2022-04-20","value":9.70,"outlier":"FALSE"},
{"site":"Mauston","date":"2022-07-22","value":12.69,"outlier":"FALSE"},
{"site":"Mauston","date":"2022-07-27","value":12.70,"outlier":"FALSE"},
{"site":"Mauston","date":"2022-08-31","value":12.47,"outlier":"FALSE"},
{"site":"Mauston","date":"2022-06-28","value":12.36,"outlier":"FALSE"},
{"site":"Mauston","date":"2022-08-10","value":12.33,"outlier":"FALSE"},
{"site":"Mauston","date":"2022-10-20","value":12.30,"outlier":"FALSE"},
{"site":"Mauston","date":"2022-11-29","value":12.22,"outlier":"FALSE"},
{"site":"Mauston","date":"2022-05-25","value":12.19,"outlier":"FALSE"},
{"site":"Mauston","date":"2022-08-03","value":12.11,"outlier":"FALSE"},
{"site":"Mauston","date":"2022-05-11","value":11.99,"outlier":"FALSE"},
{"site":"Mauston","date":"2022-09-14","value":11.84,"outlier":"FALSE"},
{"site":"Mauston","date":"2022-09-06","value":11.66,"outlier":"FALSE"},
{"site":"Mauston","date":"2022-11-07","value":11.67,"outlier":"FALSE"},
{"site":"Mauston","date":"2022-05-17","value":11.35,"outlier":"FALSE"},
{"site":"Mauston","date":"2022-05-03","value":11.23,"outlier":"FALSE"},
{"site":"Mauston","date":"2022-06-21","value":11.19,"outlier":"FALSE"},
{"site":"Mauston","date":"2022-07-05","value":11.13,"outlier":"FALSE"},
{"site":"Mauston","date":"2022-07-12","value":11.37,"outlier":"FALSE"},
{"site":"Mauston","date":"2022-08-21","value":11.44,"outlier":"FALSE"},
{"site":"Mauston","date":"2022-08-18","value":11.34,"outlier":"FALSE"},
{"site":"Mauston","date":"2022-09-22","value":11.35,"outlier":"FALSE"},
{"site":"Mauston","date":"2022-11-02","value":11.35,"outlier":"FALSE"},
{"site":"Mauston","date":"2022-10-09","value":11.21,"outlier":"FALSE"},
{"site":"Mauston","date":"2022-10-27","value":11.17,"outlier":"FALSE"},
{"site":"Mauston","date":"2022-09-28","value":10.99,"outlier":"FALSE"},
{"site":"Mauston","date":"2022-11-15","value":10.78,"outlier":"FALSE"},
{"site":"Mauston","date":"2022-05-28","value":10.65,"outlier":"FALSE"},
{"site":"Mauston","date":"2022-06-08","value":10.65,"outlier":"FALSE"},
{"site":"Mauston","date":"2022-06-16","value":10.32,"outlier":"FALSE"},
{"site":"Mauston","date":"2022-11-21","value":10.29,"outlier":"FALSE"}
]
},
"vconcat": [
{
"data": {"name": "sites"},
"facet": {"column": {"field": "site", "type": "nominal", "header": null}},
"spacing": 14,
"spec": {
"width": 279, "height": 46,
"view": {"fill": "#d9d9d9", "stroke": null},
"mark": {"type": "text", "fontSize": 23.4, "color": "#1a1a1a", "baseline": "middle", "align": "center"},
"encoding": {"text": {"field": "site", "type": "nominal"}}
}
},
{
"data": {"name": "obs"},
"facet": {"column": {"field": "site", "type": "nominal", "header": {"labels": false, "title": "Date", "titleOrient": "bottom", "titleFontSize": 29.3, "titleColor": "black", "titleFontWeight": "normal", "titlePadding": -4, "titleFont": "Liberation Sans"}}},
"spacing": 14,
"spec": {
"width": 279, "height": 648,
"view": {"fill": "#ebebeb", "stroke": null},
"mark": {"type": "circle", "size": 120, "opacity": 1},
"encoding": {
"x": {"field": "date", "type": "temporal",
"scale": {"domain": [{"year": 2020, "month": 7, "date": 12}, {"year": 2023, "month": 1, "date": 10}]},
"axis": {"title": null,
"values": [{"year":2020,"month":10,"date":1},{"year":2021,"month":1,"date":1},{"year":2021,"month":4,"date":1},{"year":2021,"month":7,"date":1},{"year":2021,"month":10,"date":1},{"year":2022,"month":1,"date":1},{"year":2022,"month":4,"date":1},{"year":2022,"month":7,"date":1},{"year":2022,"month":10,"date":1},{"year":2023,"month":1,"date":1}],
"labelExpr": "month(datum.value) % 6 === 0 ? timeFormat(datum.value, '%Y−%m') : ''",
"labelAngle": 270, "labelAlign": "right", "labelBaseline": "middle", "labelPadding": 8,
"labelFontSize": 23.4, "labelColor": "#4d4d4d", "labelOverlap": false, "labelFlush": false,
"domain": false, "tickSize": 7, "tickColor": "#333333",
"tickWidth": 2,
"tickOpacity": {"condition": {"test": "month(datum.value) % 6 === 0", "value": 1}, "value": 0},
"grid": true, "gridColor": "white",
"gridWidth": {"condition": {"test": "month(datum.value) % 6 === 0", "value": 2.1}, "value": 1.05}
}},
"y": {"field": "value", "type": "quantitative",
"scale": {"domain": [5.02, 15.735], "nice": false, "zero": false},
"axis": {"title": "Covid−19 Gene Concentration", "titleFontSize": 29.3, "titleColor": "black", "titleFontWeight": "normal", "titlePadding": 8,
"values": [6.25, 7.5, 8.75, 10, 11.25, 12.5, 13.75, 15],
"labelExpr": "datum.value % 2.5 === 0 ? format(datum.value, '.1f') : ''",
"labelFontSize": 23.4, "labelColor": "#4d4d4d", "labelPadding": 6, "labelOverlap": false, "labelFlush": false,
"domain": false, "tickSize": 7, "tickColor": "#333333", "tickWidth": 2,
"tickOpacity": {"condition": {"test": "datum.value % 2.5 === 0", "value": 1}, "value": 0},
"grid": true, "gridColor": "white",
"gridWidth": {"condition": {"test": "datum.value % 2.5 === 0", "value": 2.1}, "value": 1.05}
}},
"color": {"field": "outlier", "type": "nominal",
"scale": {"domain": ["FALSE", "TRUE"], "range": ["#F8766D", "#00BFC4"]},
"legend": {"title": "Flagged Outlier", "orient": "none", "legendX": 909, "legendY": 307,
"titleFontSize": 29.3, "titleColor": "black", "titleFontWeight": "normal", "titlePadding": 20, "titleLimit": 400,
"labelFontSize": 23.4, "labelColor": "black", "symbolSize": 120, "symbolType": "circle",
"symbolOffset": 11, "labelOffset": 28, "rowPadding": 23, "symbolStrokeWidth": 0}}
}
}
}
]
}
